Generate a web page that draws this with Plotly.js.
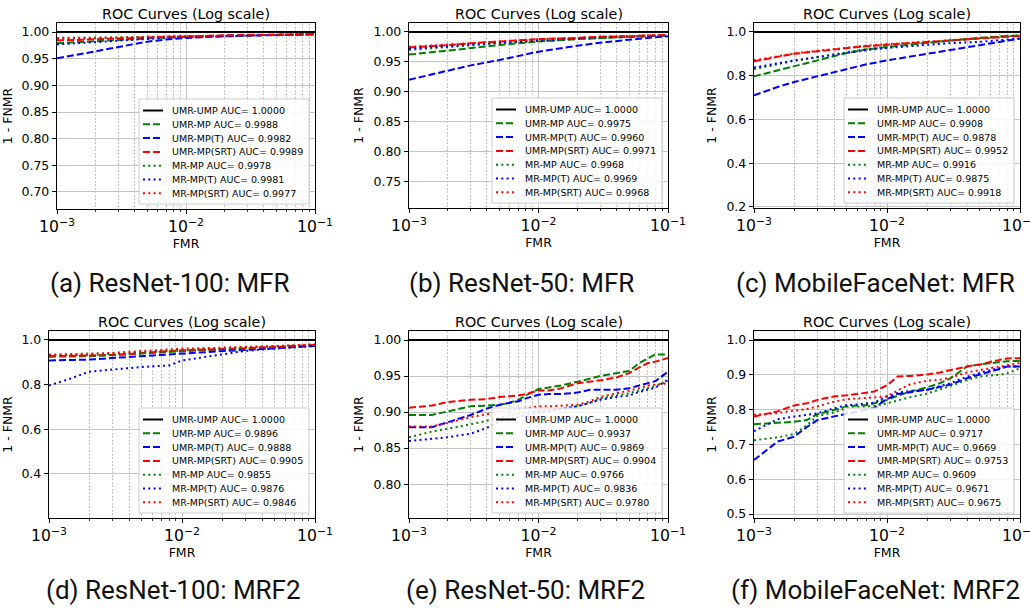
<!DOCTYPE html>
<html><head><meta charset="utf-8">
<script src="https://cdn.plot.ly/plotly-3.0.1.min.js"></script>
<style>html,body{margin:0;padding:0;background:#fff}#chart{width:1030px;height:610px}</style>
</head><body><div id="chart"></div>
<script>
// ---------------- DATA ----------------
const SERIES_NAMES = ['UMR-UMP','UMR-MP','UMR-MP(T)','UMR-MP(SRT)','MR-MP','MR-MP(T)','MR-MP(SRT)'];
const CAPTIONS = ['(a) ResNet-100: MFR','(b) ResNet-50: MFR','(c) MobileFaceNet: MFR',
                  '(d) ResNet-100: MRF2','(e) ResNet-50: MRF2','(f) MobileFaceNet: MRF2'];
const PANEL_TITLE = 'ROC Curves (Log scale)';
const X_TITLE = 'FMR';
const Y_TITLE = '1 - FNMR';

const FMR_UMP = [0.001, 0.1];
const TPR_UMP = [1.0, 1.0];

// Panels (a), (b), (c)
const FMR_ABC = [0.001,0.0015,0.002,0.003,0.005,0.007,0.01,0.02,0.03,0.05,0.07,0.1];
const A_UMR_MP     = [0.979,0.981,0.983,0.985,0.988,0.990,0.991,0.993,0.994,0.995,0.995,0.996];
const A_UMR_MP_T   = [0.951,0.958,0.964,0.972,0.982,0.986,0.989,0.992,0.993,0.994,0.995,0.996];
const A_UMR_MP_SRT = [0.984,0.985,0.986,0.988,0.990,0.991,0.992,0.994,0.995,0.995,0.996,0.996];
const A_MR_MP      = [0.989,0.989,0.989,0.990,0.991,0.991,0.992,0.993,0.994,0.995,0.995,0.996];
const A_MR_MP_T    = [0.977,0.979,0.981,0.984,0.987,0.989,0.991,0.993,0.994,0.995,0.995,0.996];
const A_MR_MP_SRT  = [0.987,0.988,0.989,0.990,0.991,0.991,0.992,0.993,0.994,0.995,0.995,0.996];
const A_AUC = ['1.0000','0.9988','0.9982','0.9989','0.9978','0.9981','0.9977'];

const B_UMR_MP     = [0.962,0.966,0.970,0.974,0.978,0.981,0.984,0.988,0.990,0.992,0.993,0.994];
const B_UMR_MP_T   = [0.920,0.929,0.936,0.944,0.953,0.960,0.967,0.977,0.982,0.987,0.990,0.993];
const B_UMR_MP_SRT = [0.974,0.976,0.978,0.981,0.984,0.986,0.988,0.990,0.992,0.993,0.994,0.995];
const B_MR_MP      = [0.970,0.973,0.975,0.978,0.981,0.983,0.985,0.988,0.990,0.992,0.993,0.994];
const B_MR_MP_T    = [0.972,0.974,0.976,0.979,0.982,0.984,0.986,0.989,0.991,0.992,0.993,0.994];
const B_MR_MP_SRT  = [0.975,0.977,0.979,0.981,0.984,0.986,0.988,0.990,0.992,0.993,0.994,0.995];
const B_AUC = ['1.0000','0.9975','0.9960','0.9971','0.9968','0.9969','0.9968'];

const C_UMR_MP     = [0.797,0.823,0.843,0.870,0.904,0.920,0.931,0.951,0.961,0.973,0.979,0.985];
const C_UMR_MP_T   = [0.710,0.748,0.771,0.797,0.832,0.852,0.870,0.900,0.918,0.942,0.956,0.970];
const C_UMR_MP_SRT = [0.866,0.886,0.900,0.912,0.927,0.935,0.942,0.954,0.961,0.970,0.976,0.982];
const C_MR_MP      = [0.830,0.852,0.868,0.885,0.909,0.922,0.933,0.951,0.961,0.972,0.978,0.984];
const C_MR_MP_T    = [0.837,0.857,0.870,0.885,0.905,0.917,0.927,0.942,0.949,0.955,0.962,0.970];
const C_MR_MP_SRT  = [0.870,0.889,0.902,0.914,0.929,0.937,0.944,0.956,0.963,0.972,0.977,0.983];
const C_AUC = ['1.0000','0.9908','0.9878','0.9952','0.9916','0.9875','0.9918'];

// Panel (d)
const FMR_D = [0.001,0.0015,0.002,0.003,0.004,0.005,0.007,0.008,0.01,0.015,0.02,0.03,0.05,0.07,0.1];
const D_UMR_MP     = [0.925,0.926,0.927,0.932,0.936,0.939,0.944,0.946,0.951,0.955,0.957,0.961,0.967,0.971,0.976];
const D_UMR_MP_T   = [0.908,0.910,0.912,0.919,0.924,0.928,0.934,0.936,0.940,0.946,0.950,0.955,0.963,0.968,0.973];
const D_UMR_MP_SRT = [0.927,0.928,0.929,0.933,0.937,0.941,0.946,0.948,0.954,0.957,0.959,0.963,0.969,0.973,0.977];
const D_MR_MP      = [0.930,0.931,0.932,0.937,0.941,0.944,0.949,0.951,0.955,0.958,0.960,0.965,0.971,0.975,0.980];
const D_MR_MP_T    = [0.796,0.830,0.858,0.869,0.874,0.879,0.884,0.886,0.908,0.925,0.937,0.951,0.961,0.967,0.973];
const D_MR_MP_SRT  = [0.934,0.936,0.938,0.942,0.947,0.951,0.955,0.957,0.961,0.963,0.965,0.968,0.973,0.976,0.980];
const D_AUC = ['1.0000','0.9896','0.9888','0.9905','0.9855','0.9876','0.9846'];

// Panels (e), (f)
const FMR_EF = [0.001,0.0015,0.002,0.0025,0.003,0.004,0.005,0.006,0.007,0.008,0.01,0.012,0.015,0.02,0.025,0.03,0.04,0.05,0.06,0.07,0.08,0.1];
const E_UMR_MP     = [0.896,0.896,0.901,0.905,0.908,0.909,0.910,0.913,0.917,0.923,0.932,0.934,0.937,0.942,0.946,0.950,0.954,0.957,0.968,0.975,0.980,0.980];
const E_UMR_MP_T   = [0.879,0.879,0.886,0.892,0.896,0.905,0.910,0.913,0.915,0.919,0.924,0.925,0.925,0.927,0.931,0.931,0.931,0.933,0.937,0.940,0.943,0.956];
const E_UMR_MP_SRT = [0.906,0.909,0.914,0.916,0.917,0.918,0.921,0.922,0.923,0.925,0.930,0.930,0.933,0.940,0.942,0.944,0.948,0.954,0.962,0.968,0.970,0.975];
const E_MR_MP      = [0.865,0.873,0.877,0.880,0.883,0.888,0.892,0.895,0.898,0.900,0.902,0.902,0.904,0.908,0.913,0.919,0.923,0.926,0.930,0.933,0.936,0.943];
const E_MR_MP_T    = [0.860,0.863,0.865,0.868,0.870,0.878,0.887,0.891,0.893,0.896,0.900,0.902,0.904,0.908,0.913,0.917,0.921,0.923,0.928,0.931,0.934,0.945];
const E_MR_MP_SRT  = [0.880,0.880,0.885,0.889,0.893,0.897,0.901,0.902,0.903,0.905,0.908,0.908,0.909,0.910,0.915,0.921,0.926,0.930,0.933,0.937,0.938,0.940];
const E_AUC = ['1.0000','0.9937','0.9869','0.9904','0.9766','0.9836','0.9780'];

const F_UMR_MP     = [0.758,0.761,0.765,0.770,0.787,0.799,0.809,0.812,0.813,0.818,0.828,0.840,0.852,0.864,0.876,0.890,0.924,0.930,0.933,0.936,0.939,0.940];
const F_UMR_MP_T   = [0.655,0.708,0.722,0.750,0.770,0.780,0.789,0.795,0.800,0.805,0.830,0.845,0.850,0.857,0.865,0.872,0.890,0.900,0.910,0.917,0.924,0.924];
const F_UMR_MP_SRT = [0.780,0.795,0.812,0.818,0.828,0.838,0.841,0.845,0.849,0.852,0.870,0.895,0.897,0.901,0.907,0.914,0.924,0.930,0.938,0.943,0.947,0.948];
const F_MR_MP      = [0.712,0.720,0.730,0.755,0.782,0.792,0.804,0.807,0.809,0.811,0.818,0.826,0.836,0.846,0.858,0.868,0.886,0.895,0.898,0.900,0.904,0.919];
const F_MR_MP_T    = [0.738,0.772,0.780,0.784,0.789,0.804,0.813,0.815,0.817,0.820,0.838,0.848,0.854,0.857,0.868,0.876,0.895,0.906,0.914,0.919,0.924,0.924];
const F_MR_MP_SRT  = [0.785,0.790,0.797,0.802,0.809,0.823,0.830,0.832,0.833,0.835,0.838,0.855,0.873,0.883,0.886,0.892,0.907,0.914,0.920,0.924,0.927,0.934];
const F_AUC = ['1.0000','0.9717','0.9669','0.9753','0.9609','0.9671','0.9675'];

// ---------------- PANEL SETUP ----------------
const W = 1030, H = 610;
const PANELS = [
  {fmr: FMR_ABC, ys: [TPR_UMP, A_UMR_MP, A_UMR_MP_T, A_UMR_MP_SRT, A_MR_MP, A_MR_MP_T, A_MR_MP_SRT], auc: A_AUC,
   box: [57, 23, 315, 209], yr: [0.668, 1.017], dt: 0.05, fmt: '.2f', cap: [169, 283]},
  {fmr: FMR_ABC, ys: [TPR_UMP, B_UMR_MP, B_UMR_MP_T, B_UMR_MP_SRT, B_MR_MP, B_MR_MP_T, B_MR_MP_SRT], auc: B_AUC,
   box: [409, 23, 668, 208], yr: [0.705, 1.015], dt: 0.05, fmt: '.2f', cap: [521, 283]},
  {fmr: FMR_ABC, ys: [TPR_UMP, C_UMR_MP, C_UMR_MP_T, C_UMR_MP_SRT, C_MR_MP, C_MR_MP_T, C_MR_MP_SRT], auc: C_AUC,
   box: [754, 23, 1020, 208], yr: [0.195, 1.041], dt: 0.2, fmt: '.1f', cap: [875, 283]},
  {fmr: FMR_D, ys: [TPR_UMP, D_UMR_MP, D_UMR_MP_T, D_UMR_MP_SRT, D_MR_MP, D_MR_MP_T, D_MR_MP_SRT], auc: D_AUC,
   box: [49, 331, 315, 518], yr: [0.203, 1.04], dt: 0.2, fmt: '.1f', cap: [173, 590]},
  {fmr: FMR_EF, ys: [TPR_UMP, E_UMR_MP, E_UMR_MP_T, E_UMR_MP_SRT, E_MR_MP, E_MR_MP_T, E_MR_MP_SRT], auc: E_AUC,
   box: [409, 331, 668, 518], yr: [0.753, 1.0125], dt: 0.05, fmt: '.2f', cap: [525, 590]},
  {fmr: FMR_EF, ys: [TPR_UMP, F_UMR_MP, F_UMR_MP_T, F_UMR_MP_SRT, F_MR_MP, F_MR_MP_T, F_MR_MP_SRT], auc: F_AUC,
   box: [754, 331, 1020, 518], yr: [0.4885, 1.026], dt: 0.1, fmt: '.1f', cap: [875, 590]}
];
const DASHED = '7px,3px', DOTTED = '2px,3.3px';
const STYLES = [
  {c: '#000000', d: 'solid'},
  {c: '#008000', d: DASHED}, {c: '#0000ff', d: DASHED}, {c: '#ff0000', d: DASHED},
  {c: '#008000', d: DOTTED}, {c: '#0000ff', d: DOTTED}, {c: '#ff0000', d: DOTTED}
];
const FONT = 'DejaVu Sans, sans-serif';
const px = v => v / W, py = v => 1 - v / H;

const traces = [], shapes = [], annotations = [];
const layout = {
  width: W, height: H, margin: {l: 0, r: 0, t: 0, b: 0},
  paper_bgcolor: '#ffffff', plot_bgcolor: '#ffffff', showlegend: false,
  font: {family: FONT, size: 12.5, color: '#000'}
};

PANELS.forEach((p, i) => {
  const k = i === 0 ? '' : String(i + 1);
  const [l, t, r, b] = p.box;
  layout['xaxis' + k] = {
    type: 'log', range: [-3, -1], dtick: 1, exponentformat: 'power',
    domain: [px(l), px(r)], anchor: 'y' + k,
    showline: true, mirror: true, linecolor: '#000', linewidth: 1.2,
    ticks: 'outside', ticklen: 4, tickwidth: 1, tickcolor: '#000',
    showgrid: true, gridcolor: '#c4c4c4', gridwidth: 1, zeroline: false,
    ticklabeloverflow: 'allow',
    minor: {dtick: 'D1', ticks: 'outside', ticklen: 2, tickcolor: '#000', tickwidth: 0.8,
            showgrid: true, gridcolor: '#a8a8a8', gridwidth: 0.7, griddash: '2px,1.5px'},
    tickfont: {family: FONT, size: 12.5, color: '#000'},
    title: {text: X_TITLE, font: {family: FONT, size: 12.5, color: '#000'}, standoff: 3},
    fixedrange: true
  };
  layout['yaxis' + k] = {
    range: p.yr, dtick: p.dt, tick0: 0, tickformat: p.fmt,
    domain: [py(b), py(t)], anchor: 'x' + k,
    showline: true, mirror: true, linecolor: '#000', linewidth: 1.2,
    ticks: 'outside', ticklen: 4, tickwidth: 1, tickcolor: '#000',
    showgrid: true, gridcolor: '#c4c4c4', gridwidth: 1, zeroline: false,
    tickfont: {family: FONT, size: 12.5, color: '#000'},
    title: {text: Y_TITLE, font: {family: FONT, size: 12.5, color: '#000'}, standoff: 7},
    fixedrange: true
  };
  p.ys.forEach((y, s) => {
    traces.push({
      type: 'scatter', mode: 'lines', x: s === 0 ? FMR_UMP : p.fmr, y: y,
      name: SERIES_NAMES[s] + ' AUC= ' + p.auc[s],
      xaxis: 'x' + k, yaxis: 'y' + k,
      line: {color: STYLES[s].c, dash: STYLES[s].d, width: 2},
      hoverinfo: 'skip'
    });
  });
  // panel title
  annotations.push({xref: 'paper', yref: 'paper', x: px((l + r) / 2), y: py(t - 9),
    text: PANEL_TITLE, showarrow: false, xanchor: 'center', yanchor: 'middle',
    font: {family: FONT, size: 14.3, color: '#000'}});
  // caption
  annotations.push({xref: 'paper', yref: 'paper', x: px(p.cap[0]), y: py(p.cap[1]),
    text: CAPTIONS[i], showarrow: false, xanchor: 'center', yanchor: 'middle',
    font: {family: 'Roboto, sans-serif', size: 26, color: '#111'}});
  // legend box
  const LW = 170, LH = 105;
  const bx1 = r - 6, by1 = b - 5, bx0 = bx1 - LW, by0 = by1 - LH;
  shapes.push({type: 'rect', xref: 'paper', yref: 'paper', x0: px(bx0), x1: px(bx1), y0: py(by1), y1: py(by0),
    fillcolor: 'rgba(255,255,255,0.85)', line: {color: '#cccccc', width: 1}, layer: 'above'});
  SERIES_NAMES.forEach((nm, s) => {
    const cy = by0 + 11.5 + s * 13.8;
    shapes.push({type: 'line', xref: 'paper', yref: 'paper', x0: px(bx0 + 4), x1: px(bx0 + 24), y0: py(cy), y1: py(cy),
      line: {color: STYLES[s].c, dash: STYLES[s].d, width: 2}, layer: 'above'});
    annotations.push({xref: 'paper', yref: 'paper', x: px(bx0 + 31), y: py(cy),
      text: nm + ' AUC= ' + p.auc[s], showarrow: false, xanchor: 'left', yanchor: 'middle',
      font: {family: FONT, size: 9.5, color: '#000'}});
  });
});
layout.shapes = shapes;
layout.annotations = annotations;
Plotly.newPlot('chart', traces, layout, {displayModeBar: false, staticPlot: true});
</script>
</body></html>
